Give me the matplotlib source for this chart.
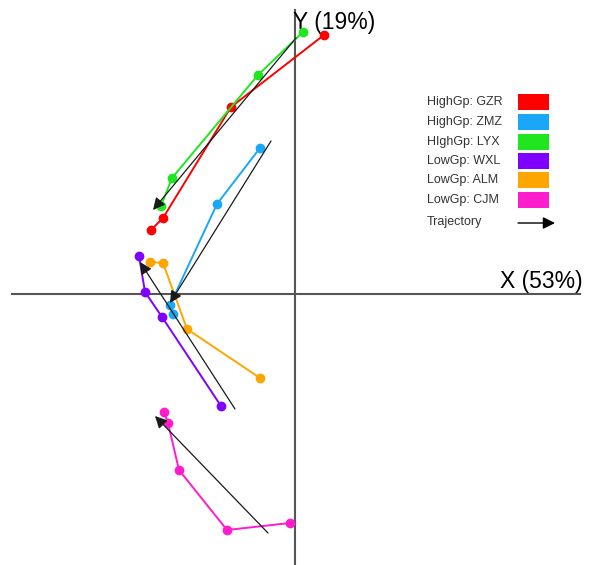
import numpy as np
import matplotlib.pyplot as plt
from matplotlib.patches import Rectangle

plt.rcParams['font.family'] = ['Liberation Sans', 'DejaVu Sans']

# subject trajectories in the (X, Y) component plane, ordered start -> end
names = ["HighGp: GZR", "HighGp: ZMZ", "HIghGp: LYX", "LowGp: WXL", "LowGp: ALM", "LowGp: CJM"]
colors = ["#ff0000", "#1aa7f7", "#1fe61f", "#7f00ff", "#ffa500", "#ff1ccc"]

gzr_x = [0.29, -0.64, -1.32, -1.44]
gzr_y = [2.59, 1.87, 0.76, 0.64]
zmz_x = [-0.35, -0.78, -1.25, -1.22]
zmz_y = [1.46, 0.90, -0.11, -0.20]
lyx_x = [0.08, -0.37, -1.23, -1.34]
lyx_y = [2.62, 2.19, 1.16, 0.88]
wxl_x = [-0.74, -1.33, -1.50, -1.56]
wxl_y = [-1.12, -0.23, 0.02, 0.38]
alm_x = [-0.35, -1.08, -1.32, -1.45]
alm_y = [-0.84, -0.35, 0.31, 0.32]
cjm_x = [-0.05, -0.68, -1.16, -1.27, -1.31]
cjm_y = [-2.29, -2.36, -1.76, -1.29, -1.18]

series_x = [gzr_x, zmz_x, lyx_x, wxl_x, alm_x, cjm_x]
series_y = [gzr_y, zmz_y, lyx_y, wxl_y, alm_y, cjm_y]

# group trajectory arrows: (start x, start y, end x, end y)
traj_start_x = [0.01, -0.24, -0.60, -0.27]
traj_start_y = [2.56, 1.53, -1.15, -2.39]
traj_end_x = [-1.42, -1.25, -1.55, -1.40]
traj_end_y = [0.84, -0.09, 0.32, -1.22]

fig = plt.figure(figsize=(5.9, 5.65), dpi=100)
ax = fig.add_axes([0, 0, 1, 1])
ax.set_xlim(-2.95, 2.95)
ax.set_ylim(-2.71, 2.94)
ax.axis("off")

# axes through the origin
ax.plot([-2.83, 2.85], [0, 0], color="#555555", lw=1.5, zorder=1)
ax.plot([0, 0], [-2.71, 2.84], color="#555555", lw=1.5, zorder=1)
ax.text(-0.02, 2.72, "Y (19%)", fontsize=16.5, ha="left", va="center")
ax.text(2.05, 0.01, "X (53%)", fontsize=16.5, ha="left", va="bottom")

for xs, ys, c in zip(series_x, series_y, colors):
    ax.plot(xs, ys, color=c, lw=1.4, marker="o", ms=6, zorder=3)

for x0, y0, x1, y1 in zip(traj_start_x, traj_start_y, traj_end_x, traj_end_y):
    ax.annotate("", xy=(x1, y1), xytext=(x0, y0),
                arrowprops=dict(arrowstyle="-|>", color="#1a1a1a", lw=0.9,
                                mutation_scale=18, shrinkA=0, shrinkB=0),
                zorder=4)

# legend drawn by hand
leg_y = [102, 122, 142, 161, 180, 200]
for name, c, py in zip(names, colors, leg_y):
    fy = 1 - py / 565
    ax.text(427 / 590, fy, name, transform=ax.transAxes, fontsize=9,
            ha="left", va="center", color="#333333")
    ax.add_patch(Rectangle((518 / 590, fy - 8 / 565), 31 / 590, 16 / 565,
                           transform=ax.transAxes, facecolor=c,
                           edgecolor="none"))
ax.text(427 / 590, 1 - 222 / 565, "Trajectory", transform=ax.transAxes,
        fontsize=9, ha="left", va="center", color="#333333")
ax.annotate("", xy=(555 / 590, 1 - 223 / 565), xytext=(518 / 590, 1 - 223 / 565),
            xycoords="axes fraction",
            arrowprops=dict(arrowstyle="-|>", color="black", lw=1,
                            mutation_scale=18, shrinkA=0, shrinkB=0))

fig.savefig("out.png", dpi=100)
